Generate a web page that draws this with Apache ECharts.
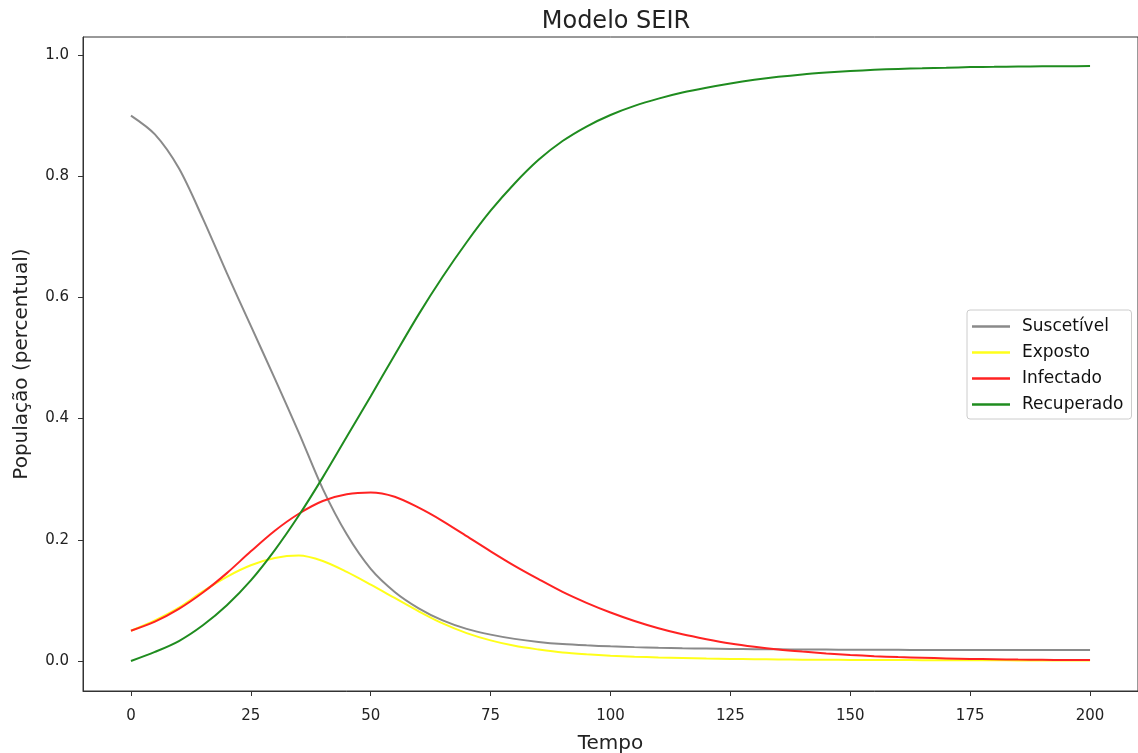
<!DOCTYPE html>
<html>
<head>
<meta charset="utf-8">
<script src="https://cdn.jsdelivr.net/npm/echarts@6/dist/echarts.min.js"></script>
<style>
html,body{margin:0;padding:0;background:#fff;}
#c{width:1138px;height:753px;}
</style>
</head>
<body>
<div id="c"></div>
<script>
const tempo = [0,5,10,15,20,25,30,35,40,45,50,55,60,65,70,75,80,85,90,95,100,105,110,115,120,125,130,135,140,145,150,155,160,165,170,175,180,185,190,195,200];
const suscetivel = [0.900,0.869,0.813,0.730,0.640,0.553,0.466,0.377,0.284,0.209,0.152,0.114,0.087,0.067,0.053,0.0435,0.0365,0.0315,0.028,0.0258,0.0242,0.0229,0.0219,0.0211,0.0205,0.0200,0.0196,0.0193,0.0190,0.0188,0.0186,0.0185,0.0184,0.0183,0.0182,0.0182,0.0181,0.0181,0.0181,0.0180,0.0180];
const exposto = [0.050,0.067,0.088,0.115,0.139,0.158,0.170,0.174,0.165,0.147,0.126,0.104,0.082,0.062,0.046,0.034,0.025,0.019,0.014,0.011,0.0088,0.0071,0.0058,0.0048,0.0040,0.0034,0.0029,0.0025,0.0022,0.0020,0.0018,0.0016,0.0015,0.0014,0.0013,0.0012,0.0011,0.0010,0.0010,0.0009,0.0009];
const infectado = [0.050,0.065,0.086,0.113,0.145,0.181,0.215,0.243,0.264,0.275,0.278,0.271,0.253,0.231,0.206,0.181,0.157,0.135,0.114,0.096,0.080,0.066,0.054,0.044,0.036,0.029,0.0235,0.019,0.0155,0.0125,0.010,0.008,0.0065,0.0053,0.0043,0.0035,0.0029,0.0024,0.0020,0.0017,0.0015];
const recuperado = [0.000,0.015,0.033,0.059,0.092,0.133,0.183,0.240,0.303,0.370,0.437,0.505,0.572,0.634,0.691,0.743,0.788,0.827,0.858,0.882,0.901,0.916,0.928,0.938,0.946,0.953,0.959,0.964,0.968,0.971,0.9735,0.9755,0.977,0.978,0.979,0.980,0.9805,0.981,0.9813,0.9815,0.9817];
const xTicks = [0,25,50,75,100,125,150,175,200];
const yTicks = [0,0.2,0.4,0.6,0.8,1.0];
const nomes = ['Suscetível','Exposto','Infectado','Recuperado'];
const cores = ['#8a8a8a','#ffff1a','#ff2222','#1f8c1f'];

const valores = [suscetivel, exposto, infectado, recuperado];
const font = 'DejaVu Sans';
const chart = echarts.init(document.getElementById('c'), null, {renderer:'canvas'});
chart.setOption({
  animation:false,
  backgroundColor:'#fff',
  title:{text:'Modelo SEIR', left:611, top:5, textAlign:'center',
    textStyle:{fontFamily:font, fontSize:24, fontWeight:'normal', color:'#222'}},
  grid:{left:83, top:37, width:1055, height:654, show:true, borderColor:'#333', borderWidth:1,
    containLabel:false, outerBoundsMode:'none'},
  legend:{
    left:967, top:310, orient:'vertical',
    data:nomes, icon:'rect',
    itemWidth:38, itemHeight:2.5, itemGap:9,
    padding:[8,8,6,5],
    borderColor:'#cccccc', borderWidth:1, borderRadius:3, backgroundColor:'#fff',
    textStyle:{fontFamily:font, fontSize:17, color:'#111', padding:[0,0,0,7], lineHeight:17}
  },
  xAxis:{
    type:'value', min:-10, max:210,
    name:'Tempo', nameLocation:'middle', nameGap:43,
    nameTextStyle:{fontFamily:font, fontSize:20, color:'#222'},
    axisLine:{show:true, onZero:false, lineStyle:{color:'#333', width:1}},
    axisTick:{show:true, length:5, customValues:xTicks, lineStyle:{color:'#333'}},
    axisLabel:{customValues:xTicks, fontFamily:font, fontSize:15, color:'#222', margin:18},
    splitLine:{show:false}
  },
  yAxis:{
    type:'value', min:-0.0495, max:1.0297,
    name:'População (percentual)', nameLocation:'middle', nameGap:51,
    nameTextStyle:{fontFamily:font, fontSize:20, color:'#222'},
    axisLine:{show:true, onZero:false, lineStyle:{color:'#333', width:1}},
    axisTick:{show:true, length:5, customValues:yTicks, lineStyle:{color:'#333'}},
    axisLabel:{customValues:yTicks, fontFamily:font, fontSize:15, color:'#222', margin:14,
      formatter:(v)=>v.toFixed(1)},
    splitLine:{show:false}
  },
  series: nomes.map((n,i)=>({
    name:n, type:'line', symbol:'none', showSymbol:false,
    smooth:0.3,
    lineStyle:{color:cores[i], width:2},
    itemStyle:{color:cores[i]},
    data: tempo.map((t,j)=>[t, valores[i][j]])
  }))
});
</script>
</body>
</html>
